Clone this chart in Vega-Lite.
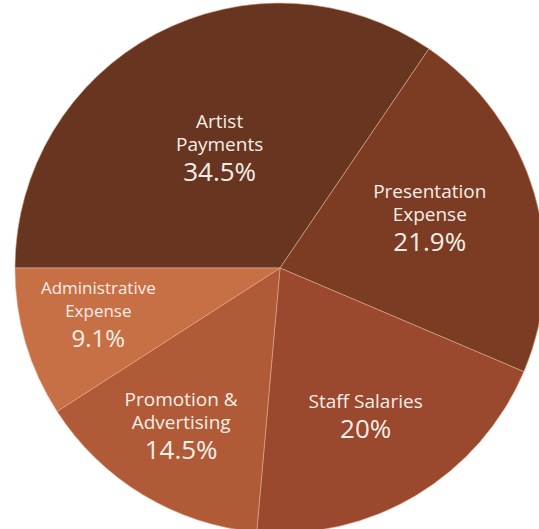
{
  "$schema": "https://vega.github.io/schema/vega-lite/v6.json",
  "width": 560,
  "height": 536,
  "padding": 0,
  "autosize": {"type": "none"},
  "background": "white",
  "view": {"stroke": null},
  "data": {
    "values": [
      {"category": "Artist Payments", "lines": ["Artist", "Payments"], "value": 34.5, "pct": "34.5%", "ord": 1},
      {"category": "Presentation Expense", "lines": ["Presentation", "Expense"], "value": 21.9, "pct": "21.9%", "ord": 2},
      {"category": "Staff Salaries", "lines": ["", "Staff Salaries"], "value": 20, "pct": "20%", "ord": 3},
      {"category": "Promotion & Advertising", "lines": ["Promotion &", "Advertising"], "value": 14.5, "pct": "14.5%", "ord": 4},
      {"category": "Administrative Expense", "lines": ["Administrative", "Expense"], "value": 9.1, "pct": "9.1%", "ord": 5}
    ]
  },
  "encoding": {
    "theta": {"field": "value", "type": "quantitative", "stack": true, "scale": {"range": [4.712389, 10.995574]}},
    "order": {"field": "ord", "type": "quantitative"}
  },
  "layer": [
    {
      "mark": {"type": "arc", "outerRadius": 265, "stroke": "#e0ab8c", "strokeWidth": 0.6},
      "encoding": {
        "color": {
          "field": "category",
          "type": "nominal",
          "legend": null,
          "scale": {
            "domain": ["Artist Payments", "Presentation Expense", "Staff Salaries", "Promotion & Advertising", "Administrative Expense"],
            "range": ["#683520", "#7b3c23", "#9a482e", "#b05a37", "#c87045"]
          }
        }
      }
    },
    {
      "mark": {"type": "text", "font": "Open Sans", "color": "#f7eee8", "baseline": "middle", "lineHeight": 23, "dy": -32},
      "encoding": {
        "detail": {"field": "category", "type": "nominal"},
        "text": {"field": "lines"},
        "radius": {
          "field": "value", "type": "quantitative", "legend": null,
          "scale": {"type": "threshold", "domain": [11, 17, 21, 28], "range": [190, 192, 158, 143, 151]}
        },
        "size": {
          "field": "value", "type": "quantitative", "legend": null,
          "scale": {"type": "threshold", "domain": [11], "range": [17, 19]}
        }
      }
    },
    {
      "mark": {"type": "text", "font": "Open Sans", "color": "#f7eee8", "baseline": "middle", "dy": 19},
      "encoding": {
        "detail": {"field": "category", "type": "nominal"},
        "text": {"field": "pct"},
        "radius": {
          "field": "value", "type": "quantitative", "legend": null,
          "scale": {"type": "threshold", "domain": [11, 17, 21, 28], "range": [190, 192, 158, 143, 151]}
        },
        "size": {
          "field": "value", "type": "quantitative", "legend": null,
          "scale": {"type": "threshold", "domain": [11], "range": [24, 26]}
        }
      }
    }
  ],
  "resolve": {"scale": {"radius": "independent", "size": "independent"}}
}
